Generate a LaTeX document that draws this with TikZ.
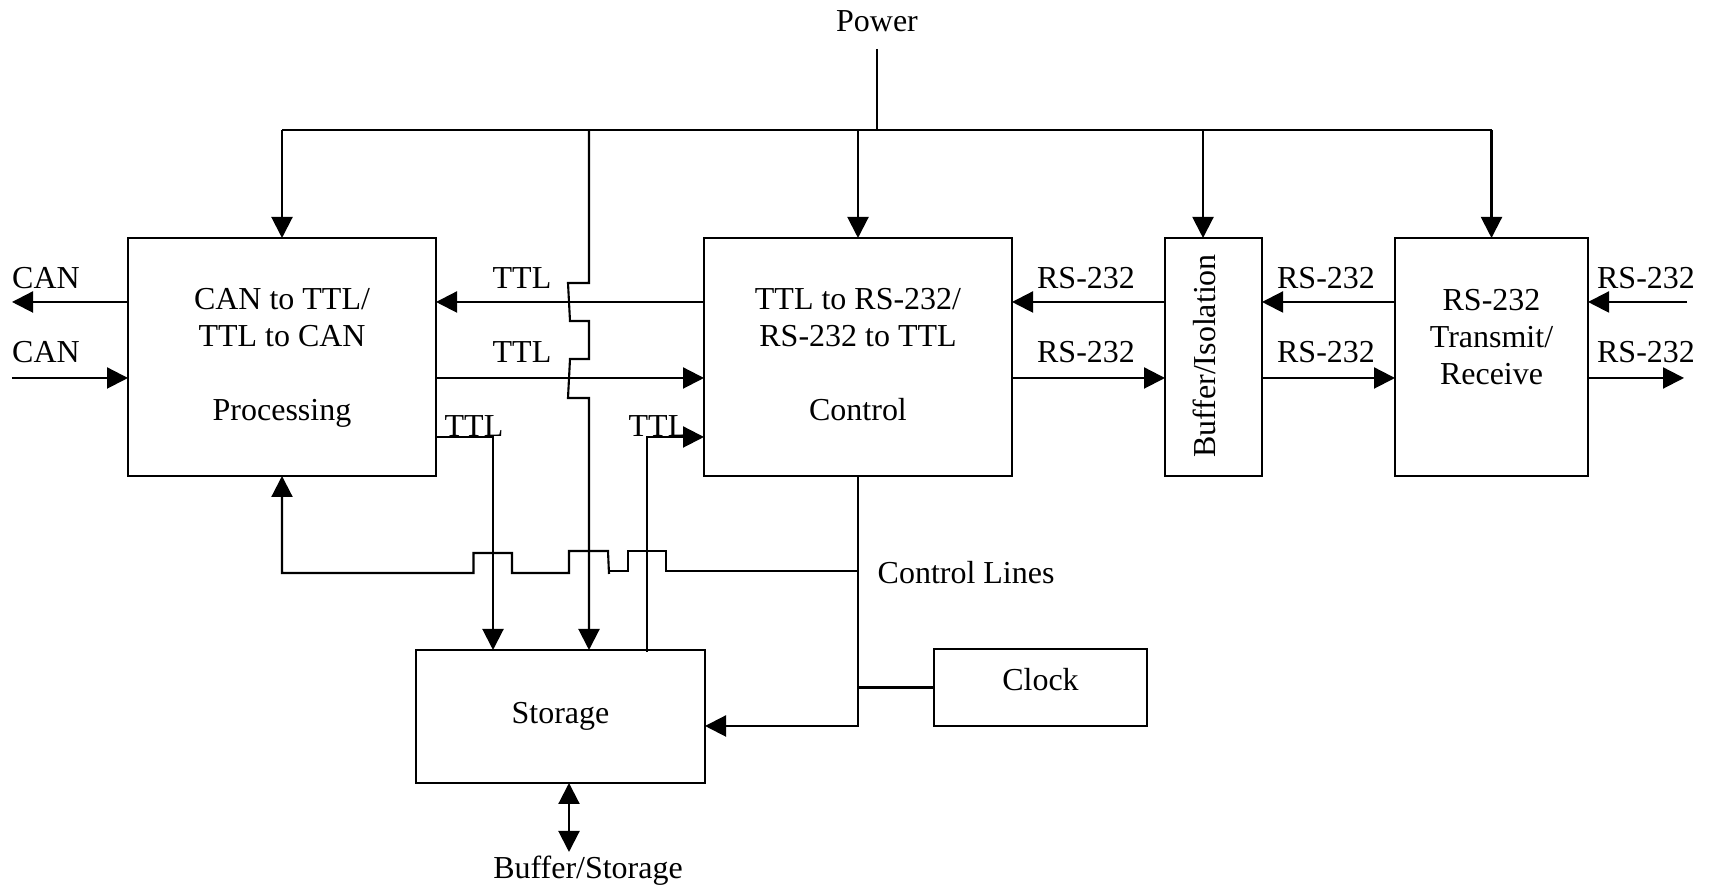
\documentclass[tikz,border=0pt]{standalone}
\usepackage{fontspec}
\setmainfont{Liberation Serif}
\usetikzlibrary{arrows.meta}
\tikzset{
	every node/.style={font=\fontsize{9.1}{10.5}\selectfont},
	wire/.style={line width=0.6pt},
	arrow/.style={wire, -{Triangle[length=2.1mm,width=2.1mm]}},
	darrow/.style={wire, {Triangle[length=2.1mm,width=2.1mm]}-{Triangle[length=2.1mm,width=2.1mm]}},
	block/.style={draw, line width=0.6pt, inner sep=0pt, outer sep=0pt, align=center},
	signal/.style={anchor=base, inner sep=0pt}
}

\begin{document}
\begin{tikzpicture}
		\useasboundingbox (0, 0) rectangle (17.09, 8.87);
		
		% blocks
		\node[block, minimum width=3.08cm, minimum height=2.38cm] (can) at (2.82, 5.30) {CAN to TTL/\\TTL to CAN\\[10.5pt]Processing\\[-9pt]~};
		\node[block, minimum width=3.08cm, minimum height=2.38cm] (ctrl) at (8.58, 5.30) {TTL to RS-232/\\RS-232 to TTL\\[10.5pt]Control\\[-9pt]~};
		\node[block, minimum width=0.97cm, minimum height=2.38cm] (buf) at (12.135, 5.30) {};
		\node[rotate=90, inner sep=0pt] (buftxt) at (12.04, 5.31) {Buffer/Isolation};
		\node[block, minimum width=1.93cm, minimum height=2.38cm] (trans) at (14.915, 5.30) {RS-232\\Transmit/\\Receive\\[1pt]~};
		\node[block, minimum width=2.89cm, minimum height=1.33cm, text depth=0.08cm] (stor) at (5.605, 1.705) {Storage};
		\node[block, minimum width=2.13cm, minimum height=0.77cm, text depth=0.16cm] (clock) at (10.405, 1.995) {Clock};
		
		% rows and free ends
		\coordinate (bus) at (0, 7.57);
		\coordinate (rowa) at (0, 5.85);
		\coordinate (rowb) at (0, 5.09);
		\coordinate (rowc) at (0, 4.50);
		\coordinate (stin) at (0, 1.61);
		\coordinate (wiretop) at (8.77, 8.38);
		\coordinate (canl) at (0.12, 5.09);
		\coordinate (canr) at (0.12, 5.85);
		\coordinate (rsin) at (16.87, 5.85);
		\coordinate (rsout) at (16.84, 5.09);
		\coordinate (bufdn) at (5.69, 0.35);
		
		% power
		\node (power) at (8.77, 8.66) {Power};
		\draw[wire] (wiretop) -- (wiretop |- bus);
		\draw[wire] (can.north |- bus) -- (trans.north |- bus);
		\draw[arrow] (can.north |- bus) -- (can.north);
		\draw[arrow] (ctrl.north |- bus) -- (ctrl.north);
		\draw[arrow] ([xshift=-0.105cm]buf.north |- bus) -- ([xshift=-0.105cm]buf.north);
		\draw[arrow] (trans.north |- bus) -- (trans.north);
		\draw[arrow] (5.89, 7.57) -- (5.89, 6.04) -- (5.68, 6.04) -- (5.70, 5.66) -- (5.89, 5.66) -- (5.89, 5.28) -- (5.70, 5.28) -- (5.68, 4.89) -- (5.89, 4.89) -- (5.89, 2.37);
		
		% signal rows
		\draw[arrow] (can.west |- rowa) -- (canr);
		\draw[arrow] (canl) -- (can.west |- rowb);
		\draw[arrow] (ctrl.west |- rowa) -- (can.east |- rowa);
		\draw[arrow] (can.east |- rowb) -- (ctrl.west |- rowb);
		\draw[arrow] (buf.west |- rowa) -- (ctrl.east |- rowa);
		\draw[arrow] (ctrl.east |- rowb) -- (buf.west |- rowb);
		\draw[arrow] (trans.west |- rowa) -- (buf.east |- rowa);
		\draw[arrow] (buf.east |- rowb) -- (trans.west |- rowb);
		\draw[arrow] (rsin) -- (trans.east |- rowa);
		\draw[arrow] (trans.east |- rowb) -- (rsout);
		
		% storage links
		\draw[arrow] (can.east |- rowc) -- (4.93, 4.50) -- (4.93, 2.37);
		\draw[arrow] (6.47, 2.35) -- (6.47, 4.50) -- (ctrl.west |- rowc);
		\draw[darrow] (5.69, 1.04) -- (bufdn);
		
		% control lines
		\draw[arrow] (ctrl.south) -- (ctrl.south |- stin) -- (stor.east |- stin);
		\draw[wire] (clock.west) -- (clock.west -| ctrl.south);
		\draw[wire] (8.58, 3.16) -- (6.66, 3.16) -- (6.66, 3.36) -- (6.28, 3.36) -- (6.28, 3.16) -- (6.09, 3.16);
		\draw[arrow] (6.09, 3.13) -- (6.08, 3.36) -- (5.69, 3.36) -- (5.69, 3.14) -- (5.12, 3.14) -- (5.12, 3.34) -- (4.735, 3.34) -- (4.735, 3.14) -- (2.82, 3.14) -- (can.south);
		
		% labels
		\node[signal] (lblcana) at (0.46, 5.98) {CAN};
		\node[signal] (lblcanb) at (0.46, 5.24) {CAN};
		\node[signal] (lblttla) at (5.22, 5.98) {TTL};
		\node[signal] (lblttlb) at (5.22, 5.24) {TTL};
		\node[signal] (lblttlc) at (4.74, 4.50) {TTL};
		\node[signal] (lblttld) at (6.58, 4.50) {TTL};
		\node[signal] (lblrsa) at (10.86, 5.98) {RS-232};
		\node[signal] (lblrsb) at (10.86, 5.24) {RS-232};
		\node[signal] (lblrsc) at (13.26, 5.98) {RS-232};
		\node[signal] (lblrsd) at (13.26, 5.24) {RS-232};
		\node[signal] (lblrse) at (16.46, 5.98) {RS-232};
		\node[signal] (lblrsf) at (16.46, 5.24) {RS-232};
		\node[signal, anchor=base west] (lblctrl) at (8.77, 3.03) {Control Lines};
		\node[signal] (lblbuf) at (5.88, 0.08) {Buffer/Storage};
	\end{tikzpicture}
\end{document}
